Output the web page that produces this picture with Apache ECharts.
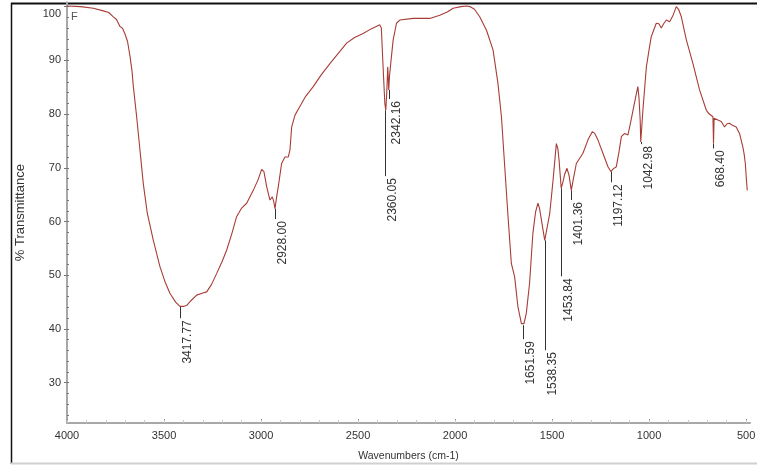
<!DOCTYPE html>
<html>
<head>
<meta charset="utf-8">
<script src="https://cdn.jsdelivr.net/npm/echarts@6/dist/echarts.min.js"></script>
<style>
html,body{margin:0;padding:0;background:#fff;}
#chart{width:757px;height:468px;}
</style>
</head>
<body>
<div id="chart"></div>
<script>
const wavenumbers = [4000,3930,3864,3813,3785,3761,3745,3727,3715,3702,3688,3675,3665,3658,3641,3624,3607,3586,3555,3521,3495,3469,3440,3418,3400,3383,3360,3332,3300,3280,3255,3229,3200,3177,3150,3126,3100,3074,3040,3015,2997,2985,2971,2954,2942,2935,2928,2920,2911,2894,2877,2860,2851,2842,2825,2800,2770,2731,2690,2645,2600,2559,2520,2474,2430,2388,2380,2371,2362,2357,2352,2347,2344,2342,2338,2330,2319,2302,2285,2216,2130,2079,2040,2010,1970,1941,1924,1900,1873,1838,1804,1779,1761,1744,1727,1710,1693,1676,1658,1651,1645,1633,1616,1599,1585,1573,1565,1555,1538,1530,1512,1495,1478,1470,1464,1453,1445,1435,1423,1412,1401,1390,1375,1341,1315,1293,1280,1264,1238,1212,1197,1185,1169,1155,1143,1126,1109,1095,1083,1070,1058,1052,1046,1043,1038,1032,1014,1000,989,963,950,937,925,911,894,875,860,848,834,808,774,740,705,690,671,668,665,657,640,628,611,598,586,570,551,534,517,510,504,498,494];
const transmittance = [100.1,100.0,99.7,99.2,98.9,98.1,97.6,96.3,96.0,95.0,93.5,90.7,88.0,85.1,79.5,73.3,67.1,61.5,56.5,51.6,48.8,46.6,45.0,44.2,44.2,44.4,45.3,46.3,46.7,46.9,48.3,50.3,52.6,54.7,57.8,60.9,62.5,63.4,65.8,67.8,69.7,69.3,66.5,64.0,64.6,63.8,62.4,64.5,66.5,70.8,72.0,72.0,73.3,77.6,79.8,81.4,83.3,85.1,87.3,89.4,91.4,93.2,94.2,95.0,95.9,96.6,96.0,88.8,82.0,80.7,84.0,88.8,86.5,84.5,87.0,90.0,93.8,96.9,97.5,97.8,97.8,98.4,99.0,99.7,100.0,100.1,100.0,99.5,98.1,95.6,91.9,85.7,79.5,70.2,60.9,52.2,49.7,44.1,41.0,40.7,41.0,42.9,48.5,57.8,61.8,63.4,62.5,60.3,56.5,56.8,61.5,67.7,74.5,73.5,71.4,66.2,67.2,68.8,69.9,68.5,65.8,68.0,70.8,72.7,75.2,76.7,76.4,75.2,72.7,70.2,69.3,69.8,70.2,73.0,75.8,76.4,76.1,78.5,80.7,83.0,85.1,83.0,78.9,74.8,77.5,80.7,88.8,92.0,94.4,96.9,96.8,96.0,96.8,97.5,97.2,98.5,100.0,99.5,98.1,93.8,89.4,84.5,80.7,80.0,79.5,74.5,79.2,79.5,78.8,78.6,77.6,78.2,78.3,77.9,77.6,76.4,73.9,72.5,70.8,67.5,65.8];

const peakWn = [3417.77, 2928.00, 2360.05, 2342.16, 1651.59, 1538.35, 1453.84, 1401.36, 1197.12, 1042.98, 668.40];
const peakLabels = ['3417.77','2928.00','2360.05','2342.16','1651.59','1538.35','1453.84','1401.36','1197.12','1042.98','668.40'];
const peakTop = [44.2, 62.4, 80.7, 84.5, 40.7, 56.5, 66.2, 65.8, 69.3, 74.8, 74.5];
const peakEnd = [42.0, 60.45, 68.45, 82.8, 38.1, 36.05, 49.8, 64.0, 67.3, 74.4, 73.6];

const xTickLabels = [4000, 3500, 3000, 2500, 2000, 1500, 1000, 500];
const xMinorTicks = [];
for (let v = 4000; v >= 500; v -= 100) xMinorTicks.push(v);
const yTickLabels = [30, 40, 50, 60, 70, 80, 90, 100];
const yMinorTicks = [];
for (let v = 24; v <= 100; v += 2) yMinorTicks.push(v);

const regFont = "'Liberation Sans', Arial, sans-serif";

const curve = wavenumbers.map((w, i) => [w, transmittance[i]]);
const peaks = peakWn.map((w, i) => [w, peakTop[i], peakEnd[i]]);

const chart = echarts.init(document.getElementById('chart'), null, {renderer: 'canvas'});
const option = {
  animation: false,
  backgroundColor: '#fff',
  grid: {left: 67, right: 7, top: 2.3, bottom: 45, containLabel: false, outerBoundsMode: 'none'},
  xAxis: [{
    type: 'value', inverse: true, min: 480, max: 4000,
    name: 'Wavenumbers (cm-1)', nameLocation: 'middle', nameGap: 28,
    nameTextStyle: {fontFamily: regFont, fontSize: 10.5, color: '#333'},
    axisLine: {show: true, onZero: false, lineStyle: {color: '#a8a8a8', width: 2}},
    axisTick: {show: true, inside: true, length: 4, customValues: xTickLabels, lineStyle: {color: '#888'}},
    axisLabel: {customValues: xTickLabels, margin: 7, fontFamily: regFont, fontSize: 11, color: '#333',
                formatter: v => String(v)},
    splitLine: {show: false}
  }, {
    type: 'value', inverse: true, min: 480, max: 4000, position: 'bottom',
    axisLine: {show: false},
    axisTick: {show: true, inside: true, length: 3, customValues: xMinorTicks, lineStyle: {color: '#c8c8c8'}},
    axisLabel: {show: false}, splitLine: {show: false}
  }],
  yAxis: [{
    type: 'value', min: 22.5, max: 100.8,
    name: '% Transmittance', nameLocation: 'middle', nameGap: 40, nameRotate: 90,
    nameTextStyle: {fontFamily: regFont, fontSize: 13, color: '#333'},
    axisLine: {show: true, onZero: false, lineStyle: {color: '#a8a8a8', width: 2}},
    axisTick: {show: true, inside: false, length: 3, customValues: yTickLabels, lineStyle: {color: '#777'}},
    axisLabel: {
      customValues: yTickLabels, margin: 6, fontFamily: regFont, fontSize: 11, color: '#333',
      formatter: v => v === 100 ? '{top|100}' : String(v),
      rich: {top: {padding: [15, 0, 0, 0], fontFamily: regFont, fontSize: 11, color: '#333'}}
    },
    splitLine: {show: false}
  }, {
    type: 'value', min: 22.5, max: 100.8, position: 'left',
    axisLine: {show: false},
    axisTick: {show: true, inside: true, length: 2, customValues: yMinorTicks, lineStyle: {color: '#777'}},
    axisLabel: {show: false}, splitLine: {show: false}
  }],
  series: [{
    type: 'line', xAxisIndex: 0, yAxisIndex: 0, data: curve,
    showSymbol: false, smooth: false,
    lineStyle: {color: '#a83c36', width: 1.1}
  }, {
    type: 'custom', xAxisIndex: 0, yAxisIndex: 0, data: peaks,
    renderItem: function (params, api) {
      const i = params.dataIndex;
      const p1 = api.coord([api.value(0), api.value(1)]);
      const p2 = api.coord([api.value(0), api.value(2)]);
      const x = Math.round(p1[0]) + 0.5;
      return {
        type: 'group',
        children: [{
          type: 'line',
          shape: {x1: x, y1: p1[1], x2: x, y2: p2[1]},
          style: {stroke: '#333', lineWidth: 1}
        }, {
          type: 'text',
          x: x + 7, y: p2[1] + 2, rotation: Math.PI / 2,
          style: {text: peakLabels[i], align: 'right', verticalAlign: 'middle',
                  font: '12px ' + regFont, fill: '#333'}
        }]
      };
    }
  }],
  graphic: [
    {type: 'line', shape: {x1: 11, y1: 3.5, x2: 757, y2: 3.5}, style: {stroke: '#111', lineWidth: 2}},
    {type: 'line', shape: {x1: 11.5, y1: 3, x2: 11.5, y2: 464}, style: {stroke: '#111', lineWidth: 1.5}},
    {type: 'line', shape: {x1: 11, y1: 463.5, x2: 757, y2: 463.5}, style: {stroke: '#d0d0d0', lineWidth: 2}},
    {type: 'text', x: 71, y: 11, style: {text: 'F', font: '11px ' + regFont, fill: '#555'}}
  ]
};
chart.setOption(option);
</script>
</body>
</html>
